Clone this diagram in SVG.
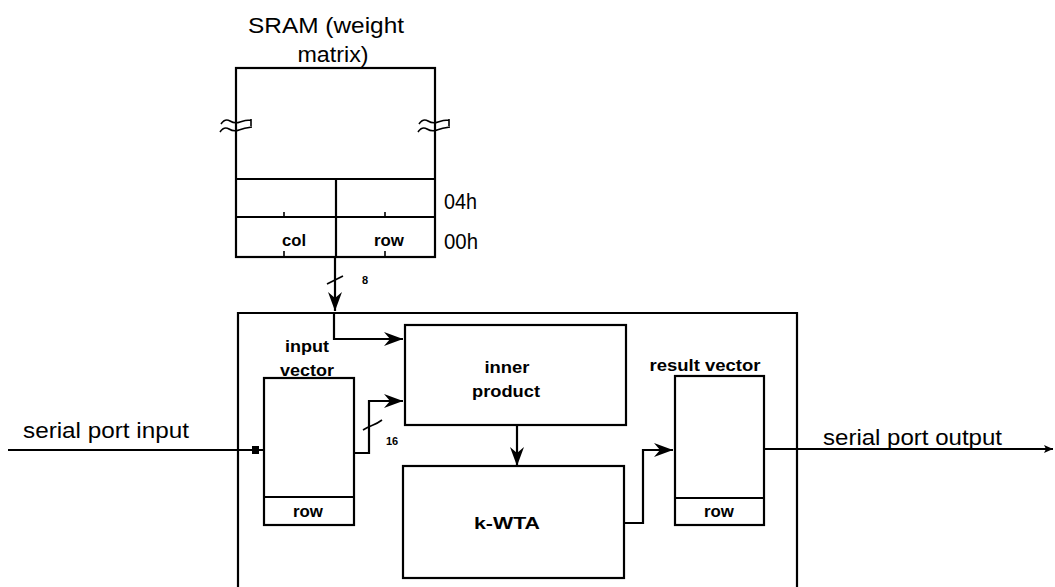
<svg xmlns="http://www.w3.org/2000/svg" width="1055" height="587" viewBox="0 0 1055 587">
<style>
  .box { fill: #fff; stroke: #000; stroke-width: 2.2; }
  .ln { fill: none; stroke: #000; stroke-width: 2.2; }
  .thin { fill: none; stroke: #000; stroke-width: 1.6; }
  .big { font-family: "Liberation Sans", Arial, sans-serif; font-size: 22px; fill: #000; }
  .lbl { font-family: "Liberation Sans", Arial, sans-serif; font-size: 17px; font-weight: bold; fill: #000; }
  .tiny { font-family: "Liberation Sans", Arial, sans-serif; font-size: 11px; font-weight: bold; fill: #000; }
</style>
<defs>
  <marker id="ah" markerUnits="userSpaceOnUse" viewBox="0 0 20 16" markerWidth="20" markerHeight="16" refX="19" refY="8" orient="auto" overflow="visible">
    <path d="M0,1 L19,8 L0,15 L6,8 z" fill="#000"/>
  </marker>
  <marker id="ahs" markerUnits="userSpaceOnUse" viewBox="0 0 10 10" markerWidth="10" markerHeight="10" refX="9" refY="5" orient="auto" overflow="visible">
    <path d="M0,1 L9,5 L0,9 L2,5 z" fill="#000"/>
  </marker>
</defs>
<rect width="1055" height="587" fill="#fff"/>

<g id="sram">
  <text class="big" x="326" y="33" text-anchor="middle" font-size="23" textLength="156" lengthAdjust="spacingAndGlyphs">SRAM (weight</text>
  <text class="big" x="333" y="62" text-anchor="middle" font-size="23" textLength="71" lengthAdjust="spacingAndGlyphs">matrix)</text>
  <rect class="box" x="236" y="68" width="199" height="189"/>
  <line class="ln" x1="236" y1="179" x2="435" y2="179"/>
  <line class="ln" x1="236" y1="217" x2="435" y2="217"/>
  <line class="ln" x1="336" y1="179" x2="336" y2="257"/>
  <line class="thin" x1="284" y1="212" x2="284" y2="217"/>
  <line class="thin" x1="385" y1="212" x2="385" y2="217"/>
  <line class="thin" x1="284" y1="251" x2="284" y2="257"/>
  <line class="thin" x1="385" y1="251" x2="385" y2="257"/>
  <path class="thin" d="M221,124 q4,-6 9,-3 t10,1 t11,-2 M220,132 q4,-6 9,-3 t10,1 t13,-3 M251,119 v7"/>
  <path class="thin" d="M419,124 q4,-6 9,-3 t10,1 t11,-2 M418,132 q4,-6 9,-3 t10,1 t13,-3 M449,119 v7"/>
  <text class="lbl" x="294" y="246" text-anchor="middle" font-size="16" textLength="24" lengthAdjust="spacingAndGlyphs">col</text>
  <text class="lbl" x="389" y="246" text-anchor="middle" font-size="16" textLength="30" lengthAdjust="spacingAndGlyphs">row</text>
  <text class="big" x="444" y="209" font-size="19" textLength="33" lengthAdjust="spacingAndGlyphs">04h</text>
  <text class="big" x="444" y="249" font-size="19" textLength="34" lengthAdjust="spacingAndGlyphs">00h</text>
</g>

<g id="main">
  <path class="ln" d="M238,600 V313 H797 V600"/>
</g>

<g id="input_vector">
  <text class="lbl" x="307" y="352" text-anchor="middle" textLength="44" lengthAdjust="spacingAndGlyphs">input</text>
  <rect class="box" x="264" y="378" width="90" height="147"/>
  <line class="ln" x1="264" y1="497" x2="354" y2="497"/>
  <text class="lbl" x="307" y="376" text-anchor="middle" textLength="54" lengthAdjust="spacingAndGlyphs">vector</text>
  <text class="lbl" x="308" y="517" text-anchor="middle" font-size="16" textLength="30" lengthAdjust="spacingAndGlyphs">row</text>
</g>

<g id="inner_product">
  <rect class="box" x="405" y="325" width="221" height="100"/>
  <text class="lbl" x="507" y="373" text-anchor="middle" textLength="45" lengthAdjust="spacingAndGlyphs">inner</text>
  <text class="lbl" x="506" y="397" text-anchor="middle" textLength="68" lengthAdjust="spacingAndGlyphs">product</text>
</g>

<g id="kwta">
  <rect class="box" x="403" y="466" width="221" height="112"/>
  <text class="lbl" x="507" y="529" text-anchor="middle" textLength="66" lengthAdjust="spacingAndGlyphs">k-WTA</text>
</g>

<g id="result_vector">
  <text class="lbl" x="705" y="371" text-anchor="middle" textLength="111" lengthAdjust="spacingAndGlyphs">result vector</text>
  <rect class="box" x="675" y="376" width="89" height="149"/>
  <line class="ln" x1="675" y1="498" x2="764" y2="498"/>
  <text class="lbl" x="719" y="517" text-anchor="middle" font-size="16" textLength="30" lengthAdjust="spacingAndGlyphs">row</text>
</g>

<g id="labels">
  <text class="big" x="23" y="438" textLength="166" lengthAdjust="spacingAndGlyphs">serial port input</text>
  <text class="big" x="823" y="445" textLength="179" lengthAdjust="spacingAndGlyphs">serial port output</text>
  <text class="tiny" x="362" y="284">8</text>
  <text class="tiny" x="386" y="445" font-size="12">16</text>
</g>

<g id="connectors">
  <line class="ln" x1="335" y1="257" x2="335" y2="311" marker-end="url(#ah)"/>
  <path class="thin" d="M327,284 q4,-2 8,-4 t8,-4"/>
  <path class="ln" d="M334,313 V339 H403" marker-end="url(#ah)"/>
  <path class="ln" d="M354,453 H369 V401 H403" marker-end="url(#ah)"/>
  <path class="thin" d="M363,430 q5,-3 10,-5 t9,-5"/>
  <line class="ln" x1="517" y1="425" x2="517" y2="466" marker-end="url(#ah)"/>
  <path class="ln" d="M624,523 H643 V450 H673" marker-end="url(#ah)"/>
  <line class="ln" x1="8" y1="450" x2="264" y2="450"/>
  <rect x="252" y="446" width="7" height="8" fill="#000"/>
  <line class="ln" x1="764" y1="449" x2="1053" y2="449" marker-end="url(#ahs)"/>
</g>
</svg>
